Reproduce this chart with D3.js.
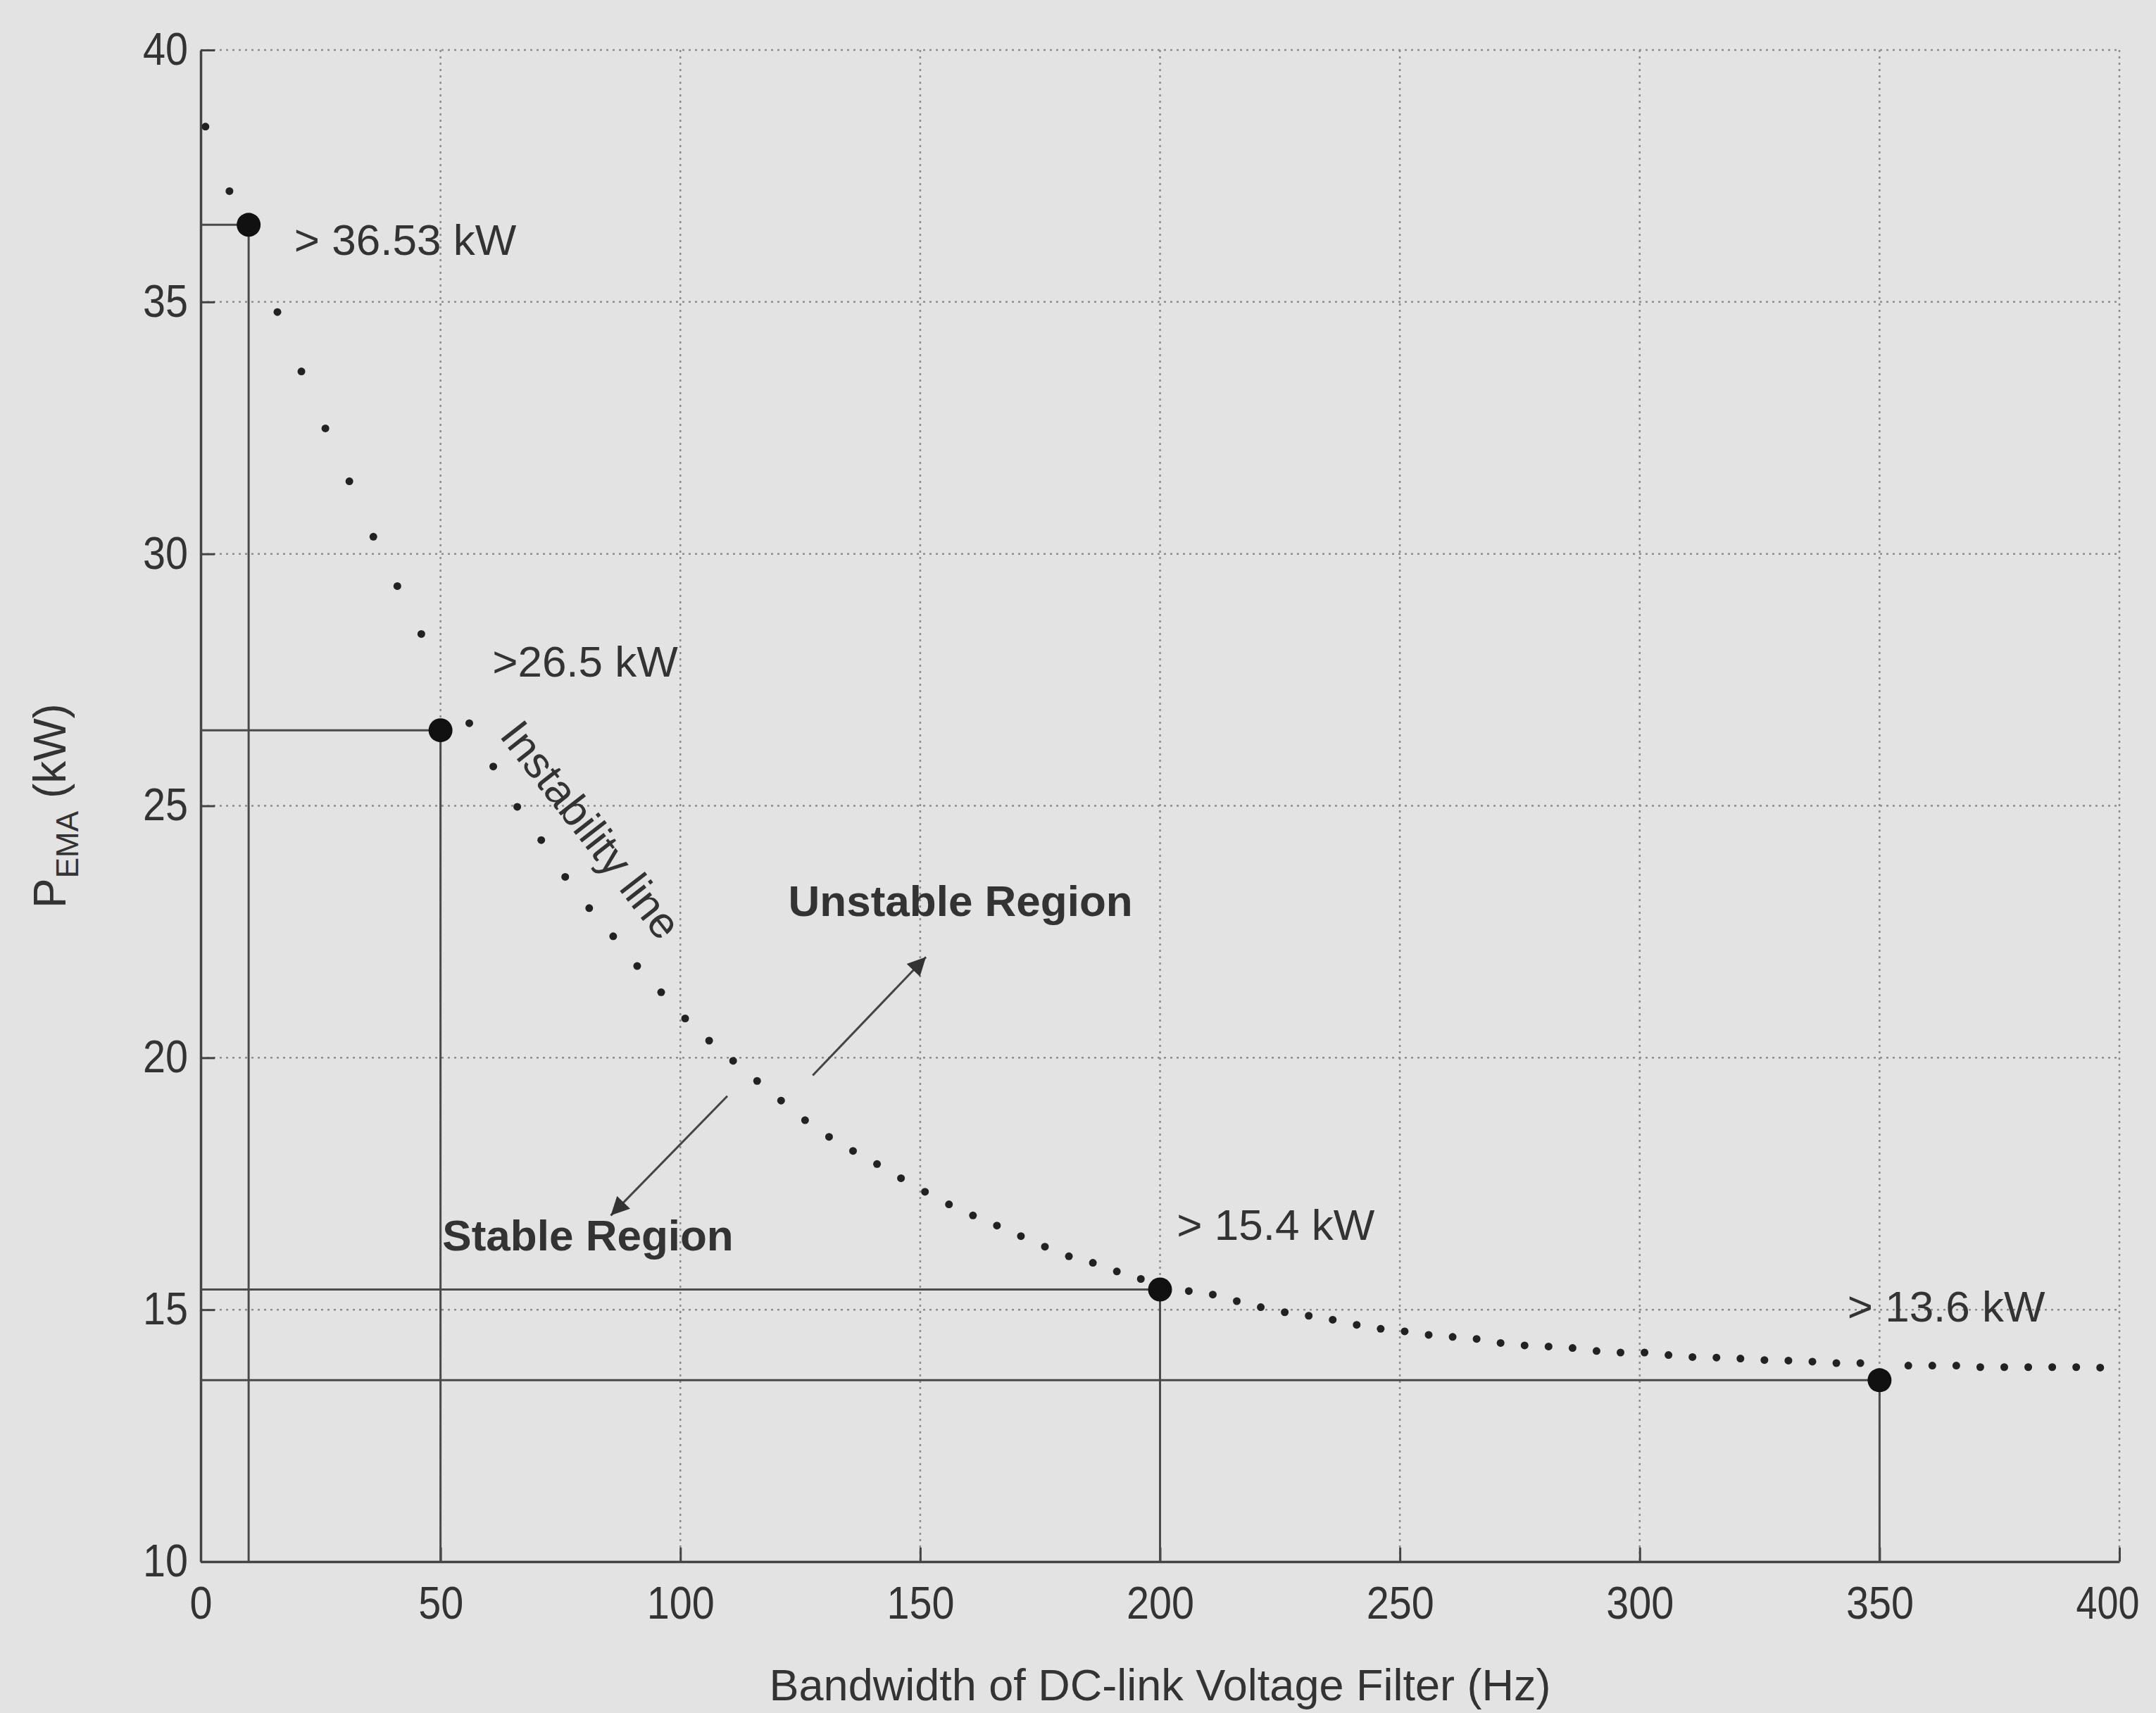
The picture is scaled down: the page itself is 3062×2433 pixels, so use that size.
<!DOCTYPE html>
<html>
<head>
<meta charset="utf-8">
<script src="https://cdn.jsdelivr.net/npm/d3@7/dist/d3.min.js"></script>
<style>
  html, body { margin: 0; padding: 0; background: #e3e3e3; }
  svg { display: block; }
  text { font-family: "Liberation Sans", Arial, sans-serif; fill: #333; }
</style>
</head>
<body>
<svg id="chart" width="3062" height="2433"></svg>
<script>
// Instability boundary: filter bandwidth (Hz) vs. EMA power (kW)
const bandwidthHz = [1, 6, 16, 21, 26, 31, 36, 41, 46, 56, 61, 66, 71, 76, 81, 86, 91, 96,
  101, 106, 111, 116, 121, 126, 131, 136, 141, 146, 151, 156, 161, 166, 171, 176, 181, 186,
  191, 196, 206, 211, 216, 221, 226, 231, 236, 241, 246, 251, 256, 261, 266, 271, 276, 281,
  286, 291, 296, 301, 306, 311, 316, 321, 326, 331, 336, 341, 346, 356, 361, 366, 371, 376,
  381, 386, 391, 396];
const powerKW = [38.48, 37.20, 34.80, 33.62, 32.49, 31.44, 30.34, 29.36, 28.41, 26.64, 25.78,
  24.98, 24.32, 23.59, 22.97, 22.41, 21.82, 21.30, 20.78, 20.34, 19.94, 19.54, 19.15, 18.76,
  18.43, 18.15, 17.89, 17.61, 17.34, 17.09, 16.87, 16.67, 16.46, 16.25, 16.06, 15.93, 15.76,
  15.61, 15.37, 15.30, 15.17, 15.05, 14.95, 14.88, 14.80, 14.70, 14.62, 14.57, 14.50, 14.46,
  14.42, 14.34, 14.29, 14.27, 14.24, 14.18, 14.15, 14.15, 14.10, 14.06, 14.05, 14.03, 14.00,
  13.99, 13.97, 13.94, 13.94, 13.89, 13.89, 13.89, 13.86, 13.86, 13.86, 13.86, 13.86, 13.85];

// Highlighted thresholds
const thresholdHz = [10, 50, 200, 350];
const thresholdKW = [36.53, 26.5, 15.4, 13.6];
const thresholdLabels = ["> 36.53 kW", ">26.5 kW", "> 15.4 kW", "> 13.6 kW"];

// Axis ticks
const xTicks = [0, 50, 100, 150, 200, 250, 300, 350, 400];
const yTicks = [10, 15, 20, 25, 30, 35, 40];

const svg = d3.select("#chart");
const W = 3062, H = 2433;
const x = d3.scaleLinear().domain([0, 400]).range([285, 3010]);
const y = d3.scaleLinear().domain([10, 40]).range([2218, 71]);

svg.append("rect").attr("width", W).attr("height", H).attr("fill", "#e3e3e3");

// Grid
const grid = svg.append("g").attr("stroke", "#8c8c8c").attr("stroke-width", 2.5)
  .attr("stroke-dasharray", "3,6");
grid.selectAll("line.h").data(yTicks.filter(d => d > 10)).join("line")
  .attr("class", "h")
  .attr("x1", x(0)).attr("x2", x(400))
  .attr("y1", d => y(d)).attr("y2", d => y(d));
grid.selectAll("line.v").data(xTicks.filter(d => d > 0)).join("line")
  .attr("class", "v")
  .attr("x1", d => x(d)).attr("x2", d => x(d))
  .attr("y1", y(40)).attr("y2", y(10));

// Axes (ticks pointing inward)
const xAxis = svg.append("g").attr("transform", `translate(0,${y(10)})`)
  .call(d3.axisBottom(x).tickValues(xTicks).tickSize(-20).tickSizeOuter(0).tickPadding(36));
const yAxis = svg.append("g").attr("transform", `translate(${x(0)},0)`)
  .call(d3.axisLeft(y).tickValues(yTicks).tickSize(-20).tickSizeOuter(0).tickPadding(18));
[xAxis, yAxis].forEach(a => {
  a.select(".domain").attr("stroke", "#444").attr("stroke-width", 3.5);
  a.selectAll(".tick line").attr("stroke", "#444").attr("stroke-width", 3);
  a.selectAll(".tick text").attr("font-size", 64)
    .attr("font-family", "Liberation Sans, Arial, sans-serif").attr("fill", "#333")
    .attr("textLength", function () { return this.textContent.length * 32; })
    .attr("lengthAdjust", "spacingAndGlyphs");
});
xAxis.selectAll(".tick text").attr("dy", "0.71em");
// keep the last x label inside the page
xAxis.selectAll(".tick text").filter(d => d === 400)
  .attr("text-anchor", "end").attr("x", 28).attr("textLength", 90);

// Threshold guide lines
const guides = svg.append("g").attr("stroke", "#4a4a4a").attr("stroke-width", 3).attr("fill", "none");
thresholdHz.forEach((hz, i) => {
  const kw = thresholdKW[i];
  guides.append("line").attr("x1", x(0)).attr("x2", x(hz)).attr("y1", y(kw)).attr("y2", y(kw));
  guides.append("line").attr("x1", x(hz)).attr("x2", x(hz)).attr("y1", y(kw)).attr("y2", y(10));
});

// Instability line (dotted markers)
svg.append("g").selectAll("circle").data(bandwidthHz).join("circle")
  .attr("cx", d => x(d))
  .attr("cy", (d, i) => y(powerKW[i]))
  .attr("r", 5.5)
  .attr("fill", "#222");

// Threshold markers
svg.append("g").selectAll("circle").data(thresholdHz).join("circle")
  .attr("cx", d => x(d))
  .attr("cy", (d, i) => y(thresholdKW[i]))
  .attr("r", 17)
  .attr("fill", "#111");

// Threshold labels
const labelAt = [[19.5, 35.93], [60.8, 27.57], [203.5, 16.39], [343.3, 14.77]];
svg.append("g").selectAll("text").data(thresholdLabels).join("text")
  .attr("x", (d, i) => x(labelAt[i][0]))
  .attr("y", (d, i) => y(labelAt[i][1]))
  .attr("font-size", 62)
  .text(d => d);

// Region annotations with arrows
const defs = svg.append("defs");
defs.append("marker").attr("id", "arrow")
  .attr("viewBox", "0 0 10 10").attr("refX", 10).attr("refY", 5)
  .attr("markerUnits", "userSpaceOnUse")
  .attr("markerWidth", 40).attr("markerHeight", 26)
  .attr("orient", "auto")
  .append("path").attr("d", "M0,0 L10,5 L0,10 Z").attr("fill", "#333");

const arrows = [
  { from: [127.6, 19.65], to: [151.2, 22.0] },
  { from: [109.8, 19.24], to: [85.5, 16.87] }
];
svg.append("g").selectAll("line").data(arrows).join("line")
  .attr("x1", d => x(d.from[0])).attr("y1", d => y(d.from[1]))
  .attr("x2", d => x(d.to[0])).attr("y2", d => y(d.to[1]))
  .attr("stroke", "#444").attr("stroke-width", 3)
  .attr("marker-end", "url(#arrow)");

svg.append("text").attr("x", x(122.5)).attr("y", y(22.81))
  .attr("font-size", 62).attr("font-weight", "bold").text("Unstable Region");
svg.append("text").attr("x", x(50.4)).attr("y", y(16.18))
  .attr("font-size", 62).attr("font-weight", "bold").text("Stable Region");

svg.append("text")
  .attr("transform", `translate(${x(78.9)},${y(24.34)}) rotate(52)`)
  .attr("text-anchor", "middle")
  .attr("font-size", 62)
  .text("Instability line");

// Axis titles
svg.append("text")
  .attr("x", (x(0) + x(400)) / 2).attr("y", 2415)
  .attr("text-anchor", "middle").attr("font-size", 63)
  .text("Bandwidth of DC-link Voltage Filter (Hz)");

const yTitle = svg.append("text")
  .attr("transform", `translate(93,${(y(10) + y(40)) / 2}) rotate(-90)`)
  .attr("text-anchor", "middle").attr("font-size", 64);
yTitle.append("tspan").text("P");
yTitle.append("tspan").attr("font-size", 44).attr("dy", 18).text("EMA");
yTitle.append("tspan").attr("dy", -18).text(" (kW)");
</script>
</body>
</html>
